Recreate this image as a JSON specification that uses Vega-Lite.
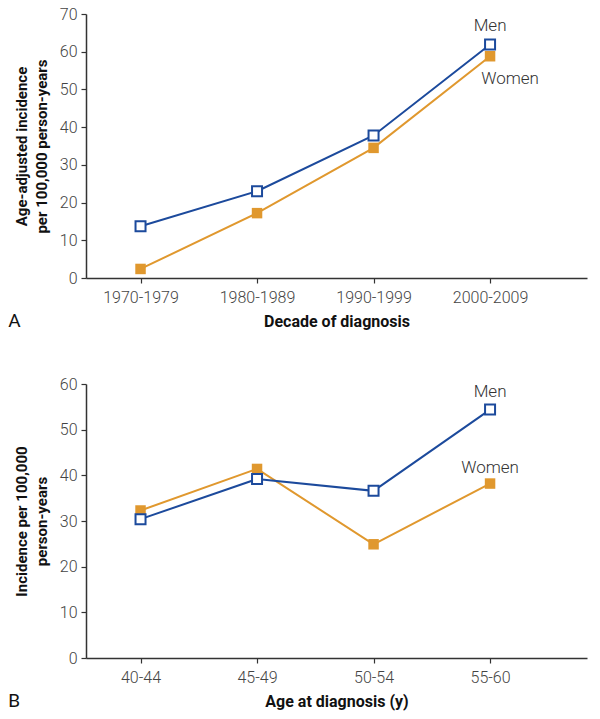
{
  "$schema": "https://vega.github.io/schema/vega-lite/v6.json",
  "padding": {"left": 8, "top": 6, "right": 4, "bottom": 5},
  "spacing": 45,
  "datasets": {
    "a": [
      {"group": "1970-1979", "sex": "Men", "value": 13.7},
      {"group": "1980-1989", "sex": "Men", "value": 23.0},
      {"group": "1990-1999", "sex": "Men", "value": 37.8},
      {"group": "2000-2009", "sex": "Men", "value": 61.9},
      {"group": "1970-1979", "sex": "Women", "value": 2.4},
      {"group": "1980-1989", "sex": "Women", "value": 17.2},
      {"group": "1990-1999", "sex": "Women", "value": 34.5},
      {"group": "2000-2009", "sex": "Women", "value": 58.8}
    ],
    "b": [
      {"group": "40-44", "sex": "Men", "value": 30.4},
      {"group": "45-49", "sex": "Men", "value": 39.2},
      {"group": "50-54", "sex": "Men", "value": 36.6},
      {"group": "55-60", "sex": "Men", "value": 54.4},
      {"group": "40-44", "sex": "Women", "value": 32.3},
      {"group": "45-49", "sex": "Women", "value": 41.4},
      {"group": "50-54", "sex": "Women", "value": 24.9},
      {"group": "55-60", "sex": "Women", "value": 38.2}
    ]
  },
  "vconcat": [
    {
      "width": 501,
      "height": 264,
      "data": {"name": "a"},
      "title": {"text": "A", "orient": "bottom", "anchor": "start", "frame": "bounds", "fontSize": 19, "fontWeight": "normal", "font": "Roboto", "color": "#111", "offset": -17, "dx": -6},
      "encoding": {
        "x": {"field": "group", "type": "ordinal", "sort": null, "scale": {"type": "point", "padding": 0.65, "align": 0.36}, "axis": {"title": "Decade of diagnosis", "labelAngle": 0}},
        "y": {"field": "value", "type": "quantitative", "scale": {"domain": [0, 70]}, "axis": {"values": [0, 10, 20, 30, 40, 50, 60, 70], "title": ["Age-adjusted incidence", "per 100,000 person-years"]}}
      },
      "layer": [
        {"transform": [{"filter": "datum.sex == 'Women'"}], "mark": {"type": "line", "color": "#e0982e", "strokeWidth": 2}},
        {"transform": [{"filter": "datum.sex == 'Women'"}], "mark": {"type": "square", "size": 110, "color": "#e0982e", "opacity": 1}},
        {"transform": [{"filter": "datum.sex == 'Men'"}], "mark": {"type": "line", "color": "#1c4a9c", "strokeWidth": 2}},
        {"transform": [{"filter": "datum.sex == 'Men'"}], "mark": {"type": "point", "shape": "square", "size": 100, "filled": true, "fill": "white", "stroke": "#1c4a9c", "strokeWidth": 2, "opacity": 1}},
        {"transform": [{"filter": "datum.sex == 'Men' && datum.group == '2000-2009'"}], "mark": {"type": "text", "dy": -19, "font": "Roboto", "fontWeight": 300, "fontSize": 17, "color": "#333"}, "encoding": {"text": {"field": "sex"}}},
        {"transform": [{"filter": "datum.sex == 'Women' && datum.group == '2000-2009'"}], "mark": {"type": "text", "dx": 20, "dy": 23, "font": "Roboto", "fontWeight": 300, "fontSize": 17, "color": "#333"}, "encoding": {"text": {"field": "sex"}}}
      ]
    },
    {
      "width": 501,
      "height": 274,
      "data": {"name": "b"},
      "title": {"text": "B", "orient": "bottom", "anchor": "start", "frame": "bounds", "fontSize": 19, "fontWeight": "normal", "font": "Roboto", "color": "#111", "offset": -17, "dx": -6},
      "encoding": {
        "x": {"field": "group", "type": "ordinal", "sort": null, "scale": {"type": "point", "padding": 0.65, "align": 0.36}, "axis": {"title": "Age at diagnosis (y)", "labelAngle": 0}},
        "y": {"field": "value", "type": "quantitative", "scale": {"domain": [0, 60]}, "axis": {"values": [0, 10, 20, 30, 40, 50, 60], "title": ["Incidence per 100,000", "person-years"]}}
      },
      "layer": [
        {"transform": [{"filter": "datum.sex == 'Women'"}], "mark": {"type": "line", "color": "#e0982e", "strokeWidth": 2}},
        {"transform": [{"filter": "datum.sex == 'Women'"}], "mark": {"type": "square", "size": 110, "color": "#e0982e", "opacity": 1}},
        {"transform": [{"filter": "datum.sex == 'Men'"}], "mark": {"type": "line", "color": "#1c4a9c", "strokeWidth": 2}},
        {"transform": [{"filter": "datum.sex == 'Men'"}], "mark": {"type": "point", "shape": "square", "size": 100, "filled": true, "fill": "white", "stroke": "#1c4a9c", "strokeWidth": 2, "opacity": 1}},
        {"transform": [{"filter": "datum.sex == 'Men' && datum.group == '55-60'"}], "mark": {"type": "text", "dy": -18, "font": "Roboto", "fontWeight": 300, "fontSize": 17, "color": "#333"}, "encoding": {"text": {"field": "sex"}}},
        {"transform": [{"filter": "datum.sex == 'Women' && datum.group == '55-60'"}], "mark": {"type": "text", "dy": -16, "font": "Roboto", "fontWeight": 300, "fontSize": 17, "color": "#333"}, "encoding": {"text": {"field": "sex"}}}
      ]
    }
  ],
  "config": {
    "view": {"stroke": null},
    "axis": {
      "grid": false,
      "domainColor": "#333",
      "domainWidth": 1.5,
      "tickColor": "#333",
      "tickWidth": 1.2,
      "tickSize": 5,
      "labelFont": "Roboto",
      "labelFontWeight": 300,
      "labelFontSize": 16,
      "labelColor": "#444",
      "titleFont": "Roboto",
      "titleFontWeight": "bold",
      "titleFontSize": 16,
      "titleColor": "#111"
    },
    "axisX": {"labelPadding": 6, "titlePadding": 8},
    "axisY": {"labelPadding": 4, "titlePadding": 10, "titleLineHeight": 20, "titleFontSize": 15}
  }
}
